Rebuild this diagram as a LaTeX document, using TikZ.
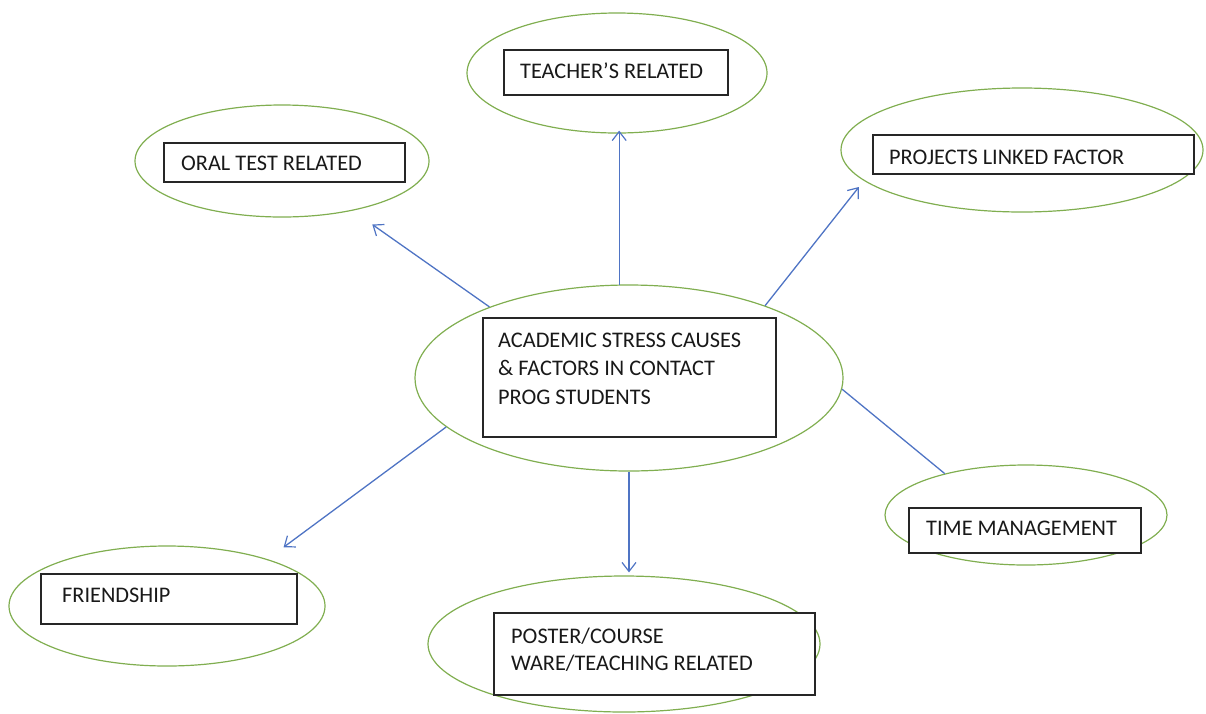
\documentclass[tikz,border=0pt]{standalone}
\usepackage{fontspec}
\setmainfont{Carlito}
\usetikzlibrary{shapes.geometric,arrows.meta}
\definecolor{ellgreen}{HTML}{80AE50}
\definecolor{arrblue}{HTML}{4F74C4}
\tikzset{
  oval/.style={ellipse, draw=ellgreen, line width=1.2pt, inner sep=0pt},
  tbox/.style={rectangle, draw=black!85, fill=white, line width=1.4pt, inner sep=0pt},
  lbl/.style={anchor=base west, inner sep=0pt, font=\fontsize{22.3pt}{28.5pt}\selectfont, text=black!90},
  arr/.style={draw=arrblue, line width=1.3pt, -{Straight Barb[length=9pt,width=14pt,line width=1.2pt]}},
  link/.style={draw=arrblue, line width=1.3pt}
}
\begin{document}
\begin{tikzpicture}[x=1pt,y=-1pt]
\useasboundingbox (0,0) rectangle (1206,713);
% ellipses
\node[oval, minimum width=428pt, minimum height=186pt] (c)  at (629,378) {};
\node[oval, minimum width=300pt, minimum height=120pt] (te) at (617,73) {};
\node[oval, minimum width=294pt, minimum height=112pt] (or) at (282,161) {};
\node[oval, minimum width=362pt, minimum height=124pt] (pr) at (1022,150) {};
\node[oval, minimum width=282pt, minimum height=100pt] (ti) at (1026,515) {};
\node[oval, minimum width=316pt, minimum height=120pt] (fr) at (167,606) {};
\node[oval, minimum width=392pt, minimum height=136pt] (po) at (624,644) {};
% boxes
\node[tbox, minimum width=293pt, minimum height=119pt] (cb)  at (629.5,377.5) {};
\node[tbox, minimum width=224pt, minimum height=45pt] (teb) at (616,72.5) {};
\node[tbox, minimum width=241pt, minimum height=39pt] (orb) at (284.5,162.5) {};
\node[tbox, minimum width=321pt, minimum height=39pt] (prb) at (1033.5,154.5) {};
\node[tbox, minimum width=232pt, minimum height=45pt] (tib) at (1025,530.5) {};
\node[tbox, minimum width=256pt, minimum height=50pt] (frb) at (169,599) {};
\node[tbox, minimum width=321pt, minimum height=82pt] (pob) at (654.5,654) {};
% texts
\node[lbl] (ct1) at (498,347) {ACADEMIC STRESS CAUSES};
\node[lbl] (ct2) at (498,375.5) {\& FACTORS IN CONTACT};
\node[lbl] (ct3) at (498,404) {PROG STUDENTS};
\node[lbl] (tet) at (520,78) {TEACHER’S RELATED};
\node[lbl] (ort) at (181,170) {ORAL TEST RELATED};
\node[lbl] (prt) at (889,164) {PROJECTS LINKED FACTOR};
\node[lbl] (tit) at (926,535) {TIME MANAGEMENT};
\node[lbl] (frt) at (62,602) {FRIENDSHIP};
\node[lbl] (pot1) at (511,643) {POSTER/COURSE};
\node[lbl] (pot2) at (511,670) {WARE/TEACHING RELATED};
% connectors
\draw[arr, shorten >=-3pt] (c.96) -- (c.96 |- te.south);
\draw[arr, shorten >=24pt] (c.153) -- (or);
\draw[arr, shorten >=8pt] (c.28) -- (pr.191);
\draw[link] (c.-3) -- (ti.153);
\draw[arr, shorten >=20pt] (c.195) -- (fr.25);
\draw[arr, shorten >=3pt] (c.south) -- (c.south |- po.north);
\end{tikzpicture}
\end{document}
